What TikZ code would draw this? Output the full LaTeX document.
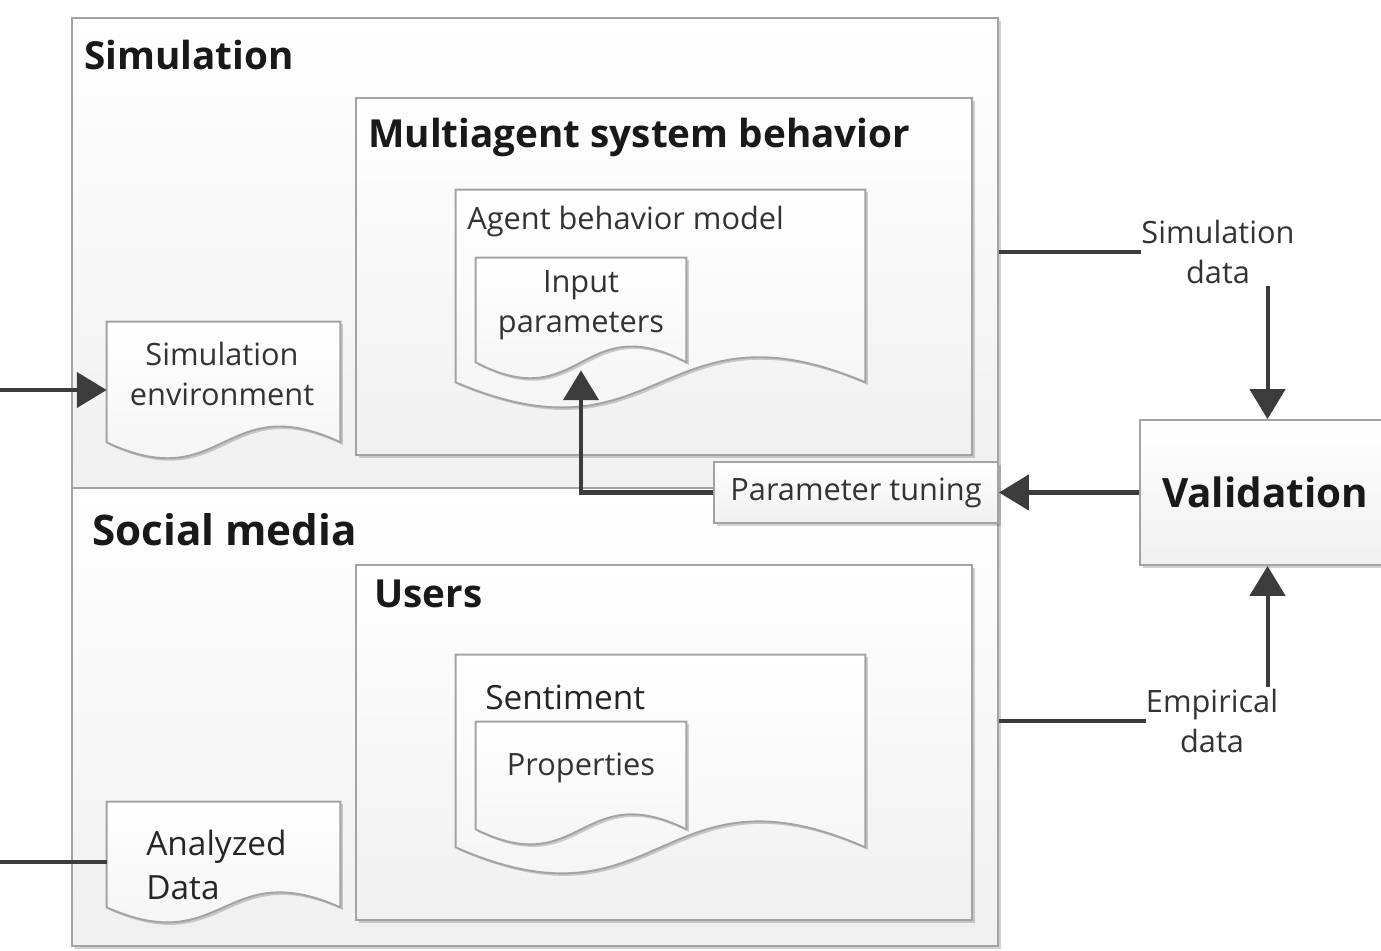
\documentclass[tikz,border=0pt]{standalone}
\usepackage{fontspec}
\setmainfont{Open Sans}
\usetikzlibrary{arrows.meta,shadows,fit,calc}
\definecolor{linegray}{HTML}{3C3C3C}
\definecolor{edgegray}{HTML}{A3A3A3}
\definecolor{txtgray}{HTML}{333333}

% a page-like shape with a wavy lower edge, built on an invisible frame node
\newcommand\docpage[4]{%
  \node[fit={#2 #3}, inner sep=0pt] (#1) {};
  \path[paper] (#1.north west) -- (#1.north east) -- (#1.south east)
    .. controls ($(#1.south)+(0,-#4)$) and ($(#1.south)+(0,#4)$) .. (#1.south west) -- cycle;
}

\begin{document}
\begin{tikzpicture}[x=0.02cm, y=-0.02cm,
  softshadow/.style={drop shadow={shadow xshift=0.05cm, shadow yshift=-0.05cm, fill=black, opacity=0.18}},
  panel/.style={draw=edgegray, line width=1.1pt, top color=white, bottom color=black!6, softshadow, inner sep=0pt},
  paper/.style={draw=edgegray, line width=1.1pt, top color=white, bottom color=black!5, softshadow},
  title/.style={font=\bfseries\fontsize{22}{26}\selectfont, text=black!90, inner sep=0pt},
  lbl/.style={font=\fontsize{17.5}{23}\selectfont, text=txtgray, inner sep=0pt, align=center},
  biglbl/.style={font=\fontsize{19}{25}\selectfont, text=black!85, inner sep=0pt, align=left},
  conn/.style={draw=linegray, line width=2.3pt},
  arr/.style={conn, -{Triangle[length=17pt, width=20pt]}}
]
\useasboundingbox (0,0) rectangle (1381,950);

% outer containers
\node[panel, fit={(72,18) (998,488)}] (sim) {};
\node[title, anchor=west] (simtitle) at (84,55) {Simulation};
\node[panel, fit={(72,488) (998,946)}] (social) {};
\node[title, anchor=west, font=\bfseries\fontsize{24}{28}\selectfont] (socialtitle) at (92,530) {Social media};

% inner containers
\node[panel, fit={(356,98) (972,455)}] (mas) {};
\node[title, anchor=west] (mastitle) at (368,137) {Multiagent system behavior};
\node[panel, fit={(356,565) (972,920)}] (users) {};
\node[title, anchor=west] (userstitle) at (374,594) {Users};

% documents of the simulation side
\docpage{env}{(107,322)}{(340,442)}{55}
\node[lbl] (envtext) at (222,374) {Simulation\\environment};
\docpage{agent}{(456,190)}{(865,382)}{87}
\node[lbl, anchor=west] (agenttext) at (467,222) {Agent behavior model};
\docpage{inparams}{(476,258)}{(686,362)}{55}
\node[lbl] (inparamstext) at (581,305) {Input\\parameters};

% documents of the social media side
\docpage{analyzed}{(107,802)}{(340,907)}{52}
\node[biglbl, anchor=west] (analyzedtext) at (146,865) {Analyzed\\Data};
\docpage{sentiment}{(456,655)}{(865,847)}{90}
\node[biglbl, anchor=west] (sentimenttext) at (485,697) {Sentiment};
\docpage{props}{(476,722)}{(686,829)}{52}
\node[lbl] (propstext) at (581,768) {Properties};

% tuning and validation blocks
\node[panel, fit={(714,462) (998,523)}] (tune) {};
\node[lbl] (tunetext) at (tune.center) {Parameter tuning};
\node[panel, fit={(1140,420) (1395,565)}] (val) {};
\node[title, font=\bfseries\fontsize{23}{27}\selectfont] (valtext) at (1265,492) {Validation};

% data labels
\node[lbl] (simdata) at (1218,252) {Simulation\\data};
\node[lbl] (empdata) at (1212,721) {Empirical\\data};

% connectors
\coordinate (envin) at (0,390);
\coordinate (dataout) at (0,862);
\draw[arr] (envin) -- (envin -| env.west);
\draw[conn] (dataout) -- (dataout -| analyzed.west);
\draw[conn] (sim.east |- simdata.west) -- (simdata.west);
\draw[conn] (social.east |- empdata.west) -- (empdata.west);
\draw[arr] ($(val.north |- simdata.south)+(0,2)$) -- (val.north);
\draw[arr] ($(val.south |- empdata.north)+(0,-2)$) -- (val.south);
\draw[arr] (val.west) -- (tune.east);
\draw[arr] (tune.west) -| ($(inparams.south)+(0,8)$);
\end{tikzpicture}
\end{document}
